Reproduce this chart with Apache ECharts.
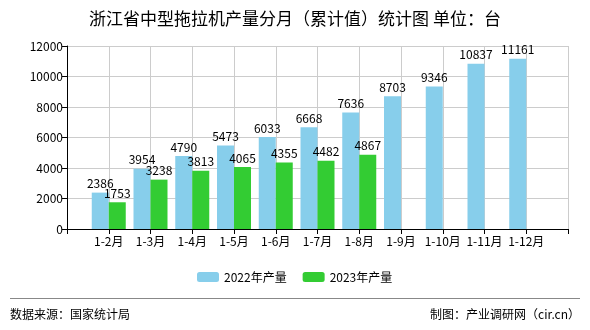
<!DOCTYPE html>
<html>
<head>
<meta charset="utf-8">
<style>
  html, body { margin: 0; padding: 0; background: #fff; }
  #chart { width: 590px; height: 330px; }
</style>
<script src="https://cdn.jsdelivr.net/npm/echarts@6/dist/echarts.min.js"></script>
</head>
<body>
<div id="chart"></div>
<script>
// Month ranges (cumulative); blank slots pad both ends of the axis
const categories = ['', '1-2月', '1-3月', '1-4月', '1-5月', '1-6月', '1-7月', '1-8月', '1-9月', '1-10月', '1-11月', '1-12月', ''];
const output2022 = [null, 2386, 3954, 4790, 5473, 6033, 6668, 7636, 8703, 9346, 10837, 11161, null];
const output2023 = [null, 1753, 3238, 3813, 4065, 4355, 4482, 4867, null, null, null, null, null];
const seriesNames = ['2022年产量', '2023年产量'];
const yTicks = { min: 0, max: 12000, interval: 2000 };

const FONT = '"Noto Sans CJK SC", "Noto Sans", sans-serif';

const chart = echarts.init(document.getElementById('chart'), null, { renderer: 'canvas' });

const labelStyle = {
  show: true,
  position: 'top',
  distance: 3,
  color: '#000',
  fontSize: 12,
  fontFamily: FONT
};

chart.setOption({
  animation: false,
  backgroundColor: '#fff',
  title: {
    text: '浙江省中型拖拉机产量分月（累计值）统计图 单位：台',
    left: 'center',
    top: 5,
    textStyle: { fontSize: 17, fontWeight: 'normal', color: '#000', fontFamily: FONT }
  },
  legend: {
    data: seriesNames,
    top: 271,
    left: 197,
    padding: 0,
    itemWidth: 22,
    itemHeight: 10,
    itemGap: 16,
    textStyle: { fontSize: 12, color: '#000', fontFamily: FONT }
  },
  grid: { left: 67, right: 22, top: 46, bottom: 101 },
  xAxis: {
    type: 'category',
    data: categories,
    boundaryGap: false,
    axisLine: { lineStyle: { color: '#000', width: 1 } },
    axisTick: { show: true, length: 5, lineStyle: { color: '#000' } },
    axisLabel: { interval: 0, color: '#000', fontSize: 12, fontFamily: FONT, margin: 6 },
    splitLine: { show: true, lineStyle: { color: '#ccc', width: 1 } }
  },
  yAxis: {
    type: 'value',
    min: yTicks.min,
    max: yTicks.max,
    interval: yTicks.interval,
    axisLine: { show: true, lineStyle: { color: '#000', width: 1 } },
    axisTick: { show: true, length: 5, lineStyle: { color: '#000' } },
    axisLabel: {
      color: '#000',
      fontSize: 12,
      fontFamily: FONT,
      margin: 4,
      formatter: (v) => String(v)
    },
    splitLine: { show: true, lineStyle: { color: '#ccc', width: 1 } }
  },
  series: [
    {
      name: seriesNames[0],
      type: 'bar',
      data: output2022,
      barWidth: 17,
      barGap: '0%',
      itemStyle: { color: '#87CEEB' },
      label: labelStyle
    },
    {
      name: seriesNames[1],
      type: 'bar',
      data: output2023,
      barWidth: 17,
      barGap: '0%',
      itemStyle: { color: '#33CC33' },
      label: labelStyle
    }
  ],
  graphic: [
    {
      type: 'line',
      shape: { x1: 10, y1: 298.5, x2: 580, y2: 298.5 },
      style: { stroke: '#888', lineWidth: 1 }
    },
    {
      type: 'text',
      left: 10,
      top: 308,
      style: { text: '数据来源：国家统计局', fill: '#000', fontSize: 12, fontFamily: FONT }
    },
    {
      type: 'text',
      right: 10,
      top: 308,
      style: { text: '制图：产业调研网（cir.cn）', fill: '#000', fontSize: 12, fontFamily: FONT }
    }
  ]
});
</script>
</body>
</html>
